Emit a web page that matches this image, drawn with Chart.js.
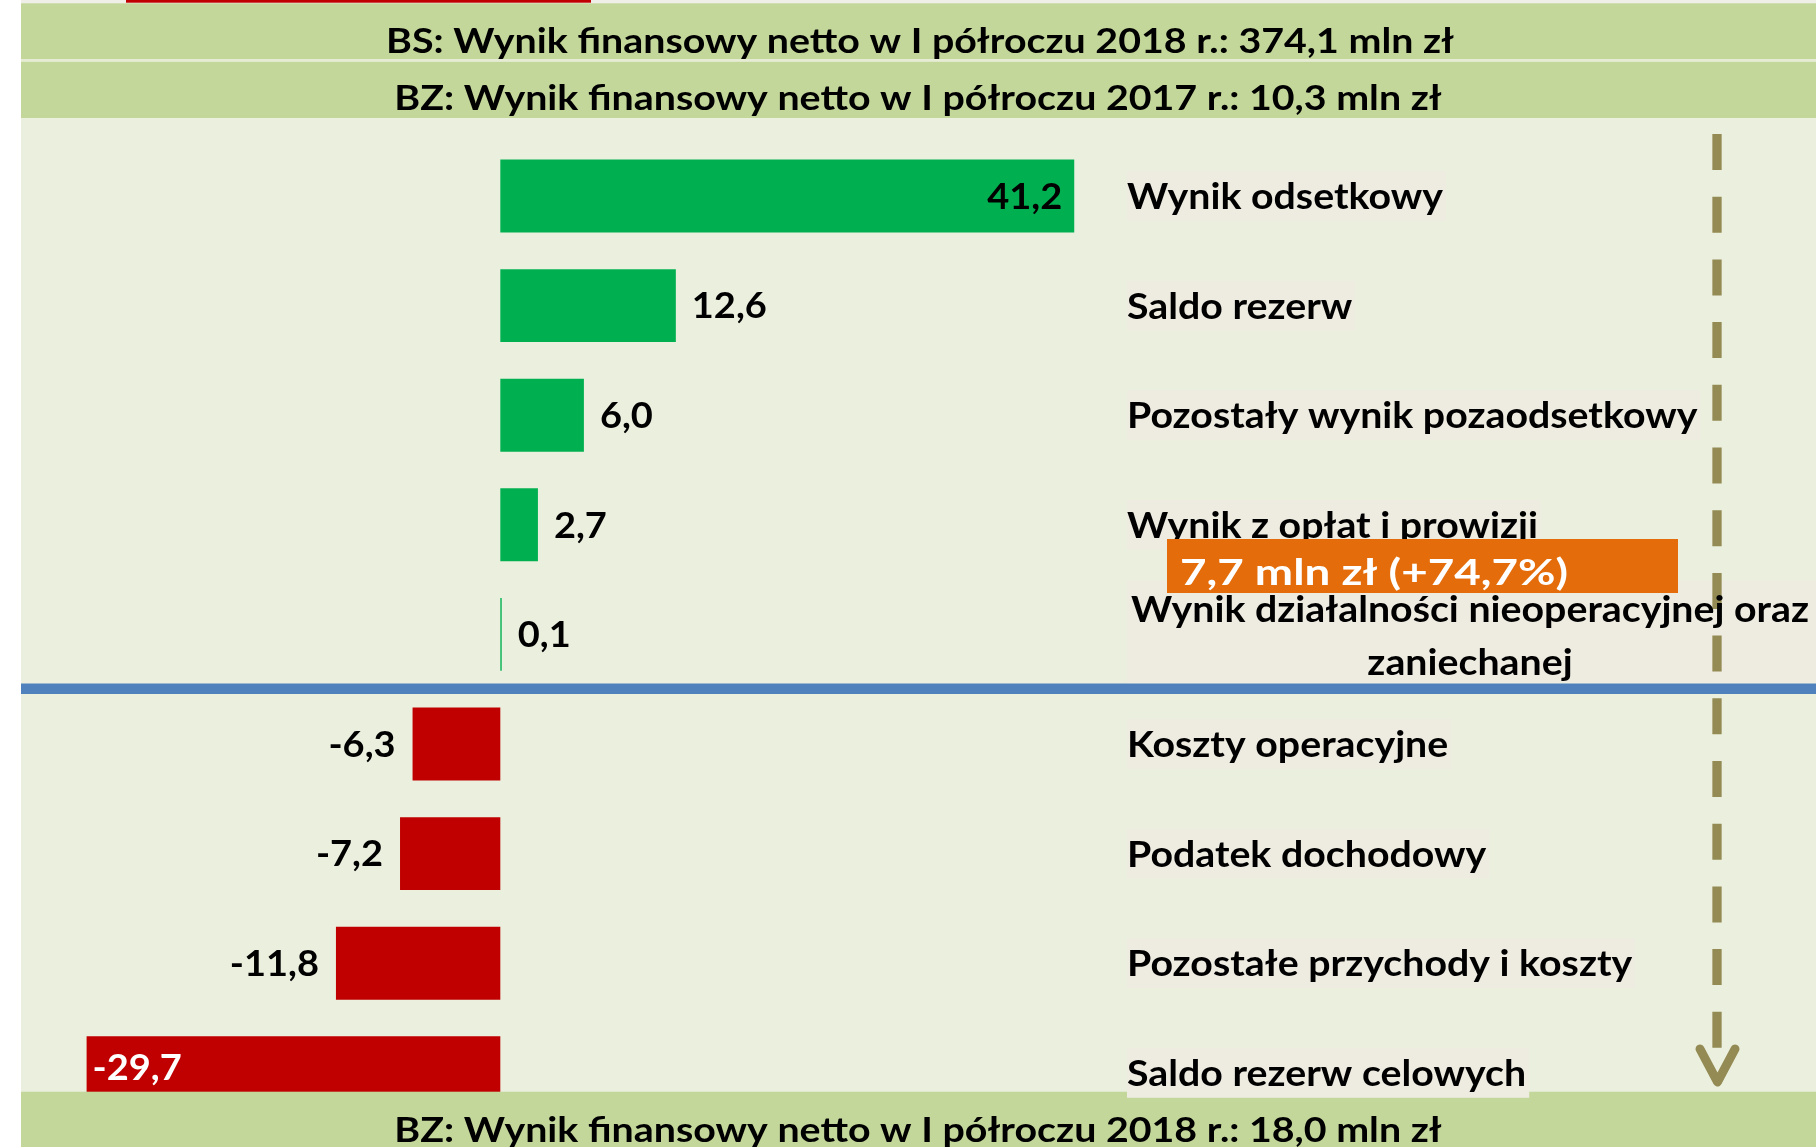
<!DOCTYPE html>
<html lang="pl">
<head>
<meta charset="utf-8">
<title>BZ: Wynik finansowy netto w I półroczu 2018 r.</title>
<script src="https://cdn.jsdelivr.net/npm/chart.js@4"></script>
<style>
  html, body { margin: 0; padding: 0; background: #ffffff; }
  canvas { display: block; }
</style>
</head>
<body>
<canvas id="bar-chart" width="1816" height="1147"></canvas>
<script>
// Kategorie (opisy po prawej stronie)
const kategorie = [
   "Wynik odsetkowy",
   "Saldo rezerw",
   "Pozostały wynik pozaodsetkowy",
   "Wynik z opłat i prowizji",
   ["Wynik działalności nieoperacyjnej oraz", "zaniechanej"],
   "Koszty operacyjne",
   "Podatek dochodowy",
   "Pozostałe przychody i koszty",
   "Saldo rezerw celowych"
];
// Zmiana wyniku wg pozycji, mln zł
const zmiany = [41.2, 12.6, 6.0, 2.7, 0.1, -6.3, -7.2, -11.8, -29.7];

const naglowekBS = "BS: Wynik finansowy netto w I półroczu 2018 r.: 374,1 mln zł";
const naglowekBZ2017 = "BZ: Wynik finansowy netto w I półroczu 2017 r.: 10,3 mln zł";
const naglowekBZ2018 = "BZ: Wynik finansowy netto w I półroczu 2018 r.: 18,0 mln zł";
const przyrost = "7,7 mln zł (+74,7%)";

const ZIELONY = '#00B050';
const CZERWONY = '#C00000';
const PASEK = '#C4D79B';   // zielone paski z wynikiem
const TLO = '#EBF0DE';
const TLO_OPISU = '#EEECE1';
const STRZALKA = '#948A54';
const FONT = 'Lato, "Open Sans", sans-serif';

const kolory = zmiany.map(v => v >= 0 ? ZIELONY : CZERWONY);
const fmt = v => v.toFixed(1).replace('.', ',');

// tekst pogrubiony, y = srodek wysokosci wersalikow, sx = sciesnienie w poziomie
function napis(ctx, s, x, y, size, color, align, sx) {
   ctx.save();
   ctx.font = 'bold ' + size + 'px ' + FONT;
   ctx.fillStyle = color;
   ctx.textBaseline = 'alphabetic';
   ctx.textAlign = align;
   ctx.translate(x, y + size * 0.358);
   ctx.scale(sx || 1, 1);
   ctx.fillText(s, 0, 0);
   ctx.restore();
}
function szerokosc(ctx, s, size) {
   ctx.save();
   ctx.font = 'bold ' + size + 'px ' + FONT;
   const w = ctx.measureText(s).width;
   ctx.restore();
   return w;
}

// tlo, naglowki, niebieska linia podzialu
const tlo = {
   id: 'tlo',
   beforeDraw(chart) {
      const c = chart.ctx;
      const W = chart.width;
      c.save();
      c.fillStyle = '#ffffff';
      c.fillRect(0, 0, W, chart.height);
      c.fillStyle = '#EFEFE8';
      c.fillRect(21, 0, W - 21, 4);
      c.fillStyle = CZERWONY;
      c.fillRect(126, 0, 465, 2.7);
      c.fillStyle = PASEK;
      c.fillRect(21, 3.3, W - 21, 55.7);
      c.fillStyle = '#E6ECD4';
      c.fillRect(21, 59, W - 21, 2.7);
      c.fillStyle = PASEK;
      c.fillRect(21, 61.7, W - 21, 56.6);
      c.fillStyle = TLO;
      c.fillRect(21, 118.3, W - 21, 974);

      const sxH = 1068 / szerokosc(c, naglowekBS, 35);
      napis(c, naglowekBS, 920, 40.5, 35, '#000', 'center', sxH);
      napis(c, naglowekBZ2017, 918, 97.5, 35, '#000', 'center', sxH);

      // linia oddzielajaca dodatnie i ujemne pozycje
      const y = chart.scales.y;
      const yl = (y.getPixelForValue(4) + y.getPixelForValue(5)) / 2;
      c.fillStyle = '#4F81BD';
      c.fillRect(21, yl - 5.7, W - 21, 10.5);
      c.restore();
   },
   afterDatasetsDraw(chart) {
      const c = chart.ctx;
      const xs = chart.scales.x;
      const ys = chart.scales.y;
      const W = chart.width;
      c.save();

      // dolny pasek
      c.fillStyle = PASEK;
      c.fillRect(21, 1091.7, W - 21, chart.height - 1091.7);
      const sxH = 1068 / szerokosc(c, naglowekBS, 35);
      napis(c, naglowekBZ2018, 918, 1129.5, 35, '#000', 'center', sxH);

      // etykiety wartosci
      const sxV = 75 / szerokosc(c, '41,2', 36);
      zmiany.forEach((v, i) => {
         const yy = ys.getPixelForValue(i);
         const xe = xs.getPixelForValue(v);
         const s = fmt(v);
         if (v > 25) napis(c, s, xe - 12, yy, 36, '#000', 'right', sxV);
         else if (v < -25) napis(c, s, xe + 6, yy - 6, 36, '#fff', 'left', sxV);
         else if (v >= 0) napis(c, s, xe + 16, yy, 36, '#000', 'left', sxV);
         else napis(c, s, xe - 17, yy, 36, '#000', 'right', sxV);
      });

      // tla opisow kategorii
      const sxL = 316 / szerokosc(c, 'Wynik odsetkowy', 37);
      const xl = 1127;
      kategorie.forEach((k, i) => {
         const yy = ys.getPixelForValue(i);
         c.fillStyle = TLO_OPISU;
         if (Array.isArray(k)) {
            c.fillRect(xl, yy - 54, W - xl, 102);
         } else {
            const w = szerokosc(c, k, 37) * sxL;
            c.fillRect(xl, yy - 25, w + 3, 50);
         }
      });

      // przerywana strzalka
      c.strokeStyle = STRZALKA;
      c.lineWidth = 9.3;
      c.setLineDash([36, 26.7]);
      c.beginPath();
      c.moveTo(1717, 134);
      c.lineTo(1717, 1048);
      c.stroke();
      c.setLineDash([]);
      c.lineWidth = 9;
      c.lineCap = 'round';
      c.lineJoin = 'round';
      c.beginPath();
      c.moveTo(1700, 1049);
      c.lineTo(1717.5, 1082);
      c.lineTo(1735, 1049);
      c.stroke();

      // opisy kategorii
      kategorie.forEach((k, i) => {
         const yy = ys.getPixelForValue(i);
         if (Array.isArray(k)) {
            napis(c, k[0], 1470, yy - 26, 37, '#000', 'center', sxL);
            napis(c, k[1], 1470, yy + 27, 37, '#000', 'center', sxL);
         } else {
            napis(c, k, xl, yy, 37, '#000', 'left', sxL);
         }
      });

      // pomaranczowa ramka z przyrostem wyniku
      c.fillStyle = '#E46C0A';
      c.fillRect(1167, 539, 511, 54);
      const sxO = 388 / szerokosc(c, przyrost, 37);
      napis(c, przyrost, 1180, 571.5, 37, '#fff', 'left', sxO);
      c.restore();
   }
};

const ctx = document.getElementById("bar-chart");
const wykres = new Chart(ctx, {
   type: 'bar',
   data: {
      labels: kategorie,
      datasets: [{
         data: zmiany,
         backgroundColor: kolory,
         borderWidth: 0,
         barPercentage: 0.665,
         categoryPercentage: 1
      }]
   },
   options: {
      indexAxis: 'y',
      responsive: false,
      animation: false,
      layout: {
         padding: { left: 26.7, right: 117.7, top: 141.2, bottom: 19.4 }
      },
      scales: {
         x: { display: false, min: -34, max: 86 },
         y: { display: false }
      },
      plugins: {
         legend: { display: false },
         tooltip: { enabled: false }
      }
   },
   plugins: [tlo]
});
</script>
</body>
</html>
